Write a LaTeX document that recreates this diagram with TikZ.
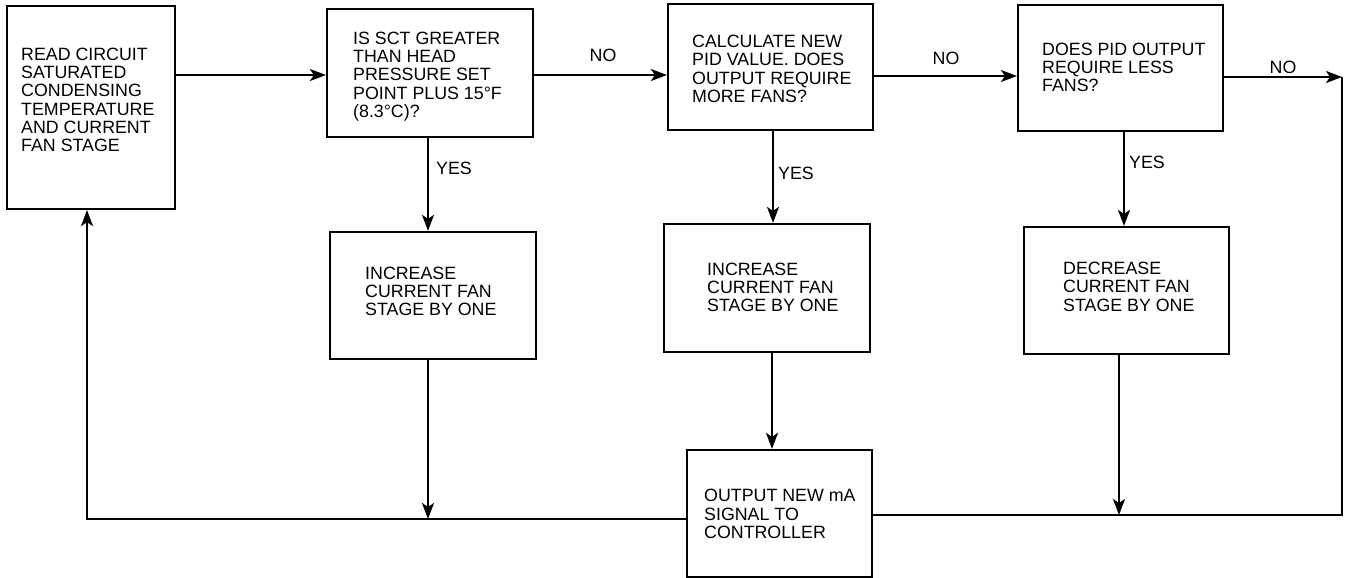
\documentclass[tikz,border=0pt]{standalone}
\usepackage{fontspec}
\setmainfont{Liberation Sans}
\usetikzlibrary{arrows.meta}
\begin{document}
\begin{tikzpicture}[x=1pt,y=-1pt,
  txt/.style={font=\fontsize{17.8}{18.3}\selectfont},
  box/.style={draw, line width=2.2pt, inner sep=0pt},
  btext/.style={txt, align=left, inner sep=0pt, anchor=north west},
  conn/.style={line width=2.2pt},
  arr/.style={conn, -{Stealth[length=16pt,width=12pt,inset=4pt]}},
  lbl/.style={txt, inner sep=0pt}]
\useasboundingbox (0,0) rectangle (1346,578);

\node[box, minimum width=168pt, minimum height=203pt] (b1) at (91,107.5) {};
\node[box, minimum width=206pt, minimum height=128pt] (b2) at (430,73) {};
\node[box, minimum width=205pt, minimum height=126pt] (b3) at (770.5,67) {};
\node[box, minimum width=205pt, minimum height=126pt] (b4) at (1120.5,68) {};
\node[box, minimum width=206pt, minimum height=127pt] (b5) at (433,295.5) {};
\node[box, minimum width=206pt, minimum height=128pt] (b6) at (767,288) {};
\node[box, minimum width=205pt, minimum height=127pt] (b7) at (1126.5,290.5) {};
\node[box, minimum width=185pt, minimum height=127pt] (b8) at (779.5,513.5) {};

\node[btext] (t1) at (21,47.5) {READ CIRCUIT\\SATURATED\\CONDENSING\\TEMPERATURE\\AND CURRENT\\FAN STAGE};
\node[btext] (t2) at (353,31.7) {IS SCT GREATER\\THAN HEAD\\PRESSURE SET\\POINT PLUS 15°F\\(8.3°C)?};
\node[btext] (t3) at (692,35) {CALCULATE NEW\\PID VALUE. DOES\\OUTPUT REQUIRE\\MORE FANS?};
\node[btext] (t4) at (1042,42.5) {DOES PID OUTPUT\\REQUIRE LESS\\FANS?};
\node[btext] (t5) at (365,266.7) {INCREASE\\CURRENT FAN\\STAGE BY ONE};
\node[btext] (t6) at (707,262.7) {INCREASE\\CURRENT FAN\\STAGE BY ONE};
\node[btext] (t7) at (1063,262) {DECREASE\\CURRENT FAN\\STAGE BY ONE};
\node[btext] (t8) at (704,489.3) {OUTPUT NEW mA\\SIGNAL TO\\CONTROLLER};

\node[lbl] (no1) at (603,55) {NO};
\node[lbl] (no2) at (946,58) {NO};
\node[lbl] (no3) at (1283,67) {NO};
\node[lbl, anchor=west] (yes1) at (436,168) {YES};
\node[lbl, anchor=west] (yes2) at (778,173) {YES};
\node[lbl, anchor=west] (yes3) at (1129,162) {YES};

\coordinate (r1) at (0,75);
\coordinate (r2) at (0,76);
\coordinate (r3) at (0,77);
\coordinate (cR) at (1342,77);
\coordinate (bR) at (1342,515);
\coordinate (bL) at (87,519);
\coordinate (vA) at (428,0);
\coordinate (vB) at (773,0);
\coordinate (vB2) at (772,0);
\coordinate (vC) at (1124,0);
\coordinate (vD) at (1119,0);

\draw[arr] (b1.east |- r1) -- (b2.west |- r1);
\draw[arr] (b2.east |- r1) -- (b3.west |- r1);
\draw[arr] (b3.east |- r2) -- (b4.west |- r2);
\draw[arr] (b4.east |- r3) -- (cR);
\draw[conn] (cR) -- (bR) -- (b8.east |- bR);
\draw[arr] (b2.south -| vA) -- (b5.north -| vA);
\draw[arr] (b3.south -| vB) -- (b6.north -| vB);
\draw[arr] (b4.south -| vC) -- (b7.north -| vC);
\draw[arr] (b5.south -| vA) -- (vA |- bL);
\draw[arr] (b6.south -| vB2) -- (b8.north -| vB2);
\draw[arr] (b7.south -| vD) -- (vD |- bR);
\draw[arr] (b8.west |- bL) -- (bL) -- (b1.south -| bL);
\end{tikzpicture}
\end{document}
